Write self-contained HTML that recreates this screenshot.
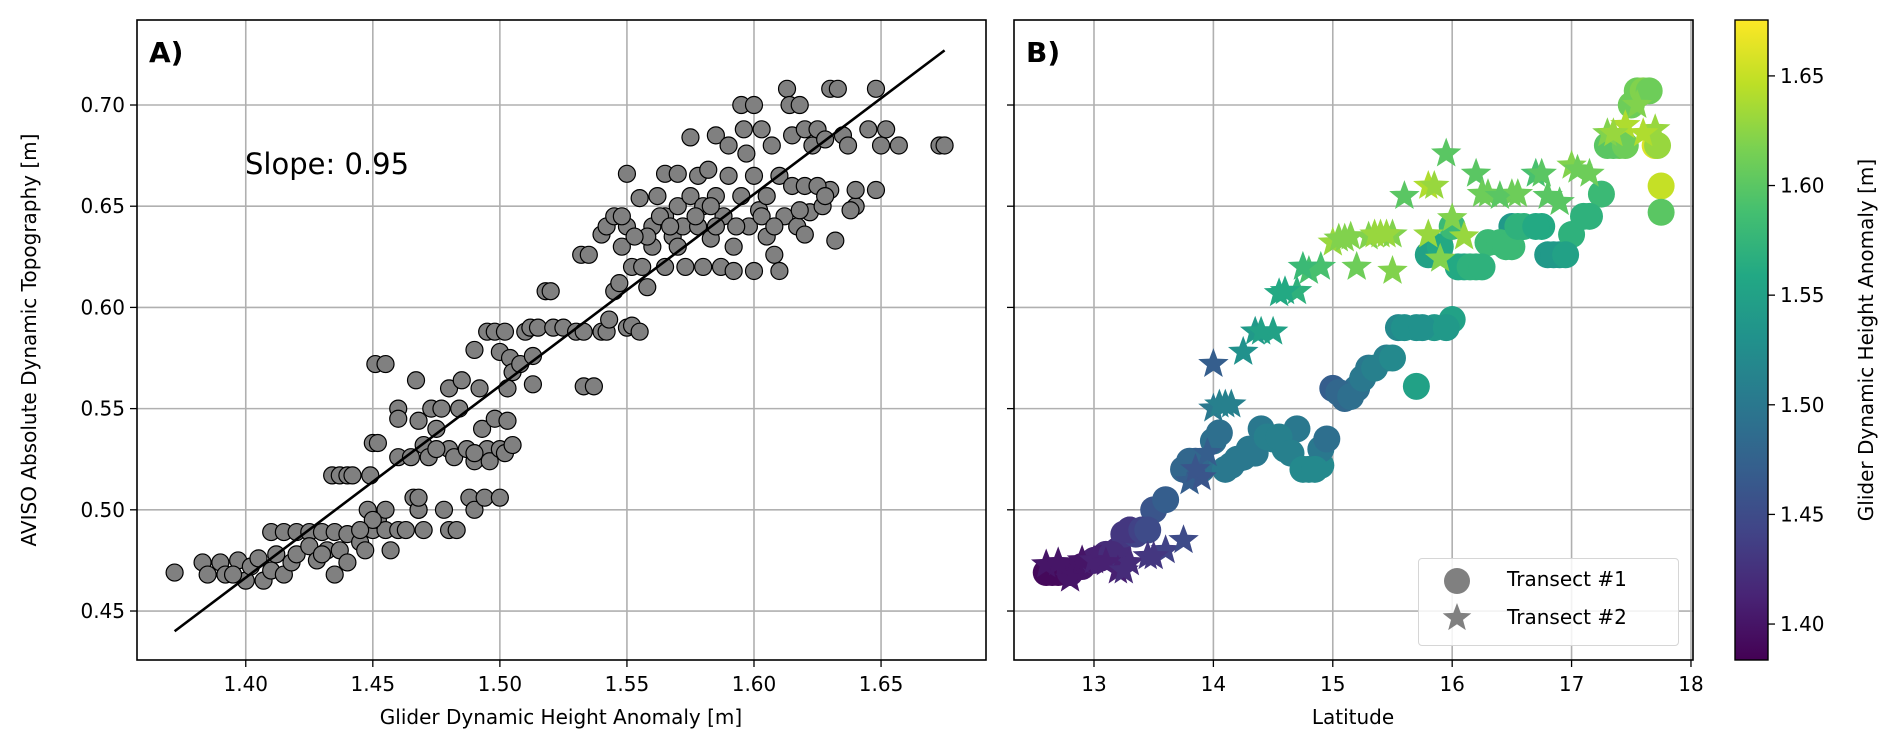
<!DOCTYPE html>
<html><head><meta charset="utf-8">
<style>
html,body{margin:0;padding:0;background:#fff;}
svg{display:block;font-family:"DejaVu Sans","Liberation Sans",sans-serif;}
</style></head>
<body>
<svg id="fig" width="1892" height="753" viewBox="0 0 1892 753" xmlns="http://www.w3.org/2000/svg"></svg>
<script>
// ---- Panel A data ----
const aX = [1.372,1.383,1.385,1.39,1.392,1.397,1.40,1.402,1.405,1.407,1.41,1.412,1.415,1.418,1.41,1.415,1.42,1.425,1.43,1.435,1.42,1.425,1.428,1.432,1.435,1.437,1.44,1.44,1.445,1.447,1.45,1.452,1.455,1.457,1.46,1.463,1.47,1.48,1.483,1.448,1.455,1.45,1.468,1.478,
1.434,1.437,1.44,1.442,1.449,1.45,1.452,1.451,1.455,1.46,1.46,1.46,1.465,1.466,1.468,1.468,1.467,1.468,1.47,1.472,1.473,1.475,1.477,1.48,1.48,1.482,1.484,1.485,1.487,1.488,1.49,1.49,1.492,1.493,1.494,1.495,1.496,1.498,1.5,1.5,1.502,1.503,1.505,1.49,1.495,1.498,1.5,1.502,1.504,1.505,1.508,1.51,1.512,1.513,1.513,1.515,1.518,1.52,1.521,1.525,1.53,1.533,1.532,1.535,1.533,1.537,1.54,1.542,1.54,1.542,1.545,1.543,1.545,1.547,1.55,1.552,1.555,1.55,1.548,1.55,1.552,1.555,1.556,1.558,1.56,1.56,1.562,1.565,1.565,1.565,1.568,1.57,1.57,1.572,1.573,1.575,1.575,1.578,1.578,1.58,1.58,1.582,1.583,1.585,1.585,1.587,1.588,1.59,1.59,1.592,1.592,1.595,1.595,1.596,1.597,1.598,1.6,1.6,1.6,1.602,1.603,1.605,1.605,1.607,1.608,1.61,1.61,1.612,1.613,1.614,1.615,1.615,1.617,1.618,1.62,1.62,1.622,1.623,1.625,1.627,1.628,1.63,1.63,1.632,1.633,1.635,1.637,1.64,1.64,1.645,1.648,1.648,1.65,1.652,1.657,1.673,1.675,1.62,1.625,1.585,1.57,1.558,
1.395,1.43,1.445,1.475,1.49,1.503,1.548,1.553,1.563,1.567,1.577,1.583,1.593,1.603,1.608,1.618,1.628,1.638];
const aY = [0.469,0.474,0.468,0.474,0.468,0.475,0.465,0.472,0.476,0.465,0.47,0.478,0.468,0.474,0.489,0.489,0.489,0.489,0.489,0.489,0.478,0.482,0.475,0.48,0.468,0.48,0.474,0.488,0.484,0.48,0.49,0.495,0.49,0.48,0.49,0.49,0.49,0.49,0.49,0.5,0.5,0.495,0.5,0.5,
0.517,0.517,0.517,0.517,0.517,0.533,0.533,0.572,0.572,0.55,0.545,0.526,0.526,0.506,0.5,0.506,0.564,0.544,0.532,0.526,0.55,0.54,0.55,0.56,0.53,0.526,0.55,0.564,0.53,0.506,0.524,0.5,0.56,0.54,0.506,0.53,0.524,0.545,0.506,0.53,0.528,0.544,0.532,0.579,0.588,0.588,0.578,0.588,0.575,0.568,0.572,0.588,0.59,0.562,0.576,0.59,0.608,0.608,0.59,0.59,0.588,0.588,0.626,0.626,0.561,0.561,0.588,0.588,0.636,0.64,0.645,0.594,0.608,0.612,0.59,0.591,0.588,0.666,0.63,0.64,0.62,0.654,0.62,0.61,0.64,0.63,0.655,0.666,0.645,0.62,0.635,0.65,0.666,0.64,0.62,0.655,0.684,0.665,0.64,0.65,0.62,0.668,0.634,0.685,0.655,0.62,0.645,0.665,0.68,0.63,0.618,0.655,0.7,0.688,0.676,0.64,0.665,0.7,0.618,0.648,0.688,0.655,0.635,0.68,0.626,0.665,0.618,0.645,0.708,0.7,0.685,0.66,0.64,0.7,0.688,0.66,0.647,0.68,0.688,0.65,0.683,0.708,0.658,0.633,0.708,0.685,0.68,0.65,0.658,0.688,0.708,0.658,0.68,0.688,0.68,0.68,0.68,0.636,0.66,0.64,0.63,0.635,
0.468,0.478,0.49,0.53,0.528,0.56,0.645,0.635,0.645,0.64,0.645,0.65,0.64,0.645,0.64,0.648,0.655,0.648];
const fitX = [1.372,1.675];
const fitY = [0.440,0.727];
const aXTicks = [1.40,1.45,1.50,1.55,1.60,1.65];
const yTicks = [0.45,0.50,0.55,0.60,0.65,0.70];
// ---- Panel B data ----
const c1Lat = [12.6,12.7,12.9,13.0,13.1,13.2,13.25,13.3,13.35,13.5,13.6,13.75,13.8,13.9,14.0,14.05,14.1,14.2,14.3,14.4,14.5,14.6,14.7,14.8,14.9,14.9,14.95,15.0,15.1,15.2,15.3,15.45,15.55,15.7,15.7,15.85,16.0,15.8,15.9,16.05,16.2,16.3,16.5,16.6,16.75,16.8,16.9,17.0,17.1,17.25,17.3,17.4,17.5,17.55,17.6,17.7,17.75,17.75,16.0,16.5,
12.65,12.8,13.05,13.15,13.3,13.4,13.45,13.85,14.15,14.25,14.35,14.45,14.55,14.65,14.75,14.85,15.05,15.15,15.25,15.35,15.5,15.6,15.75,15.95,16.1,16.15,16.25,16.4,16.45,16.55,16.7,16.85,16.95,17.15,17.35,17.45,17.65,17.72];
const c1Y = [0.469,0.469,0.472,0.475,0.478,0.48,0.488,0.49,0.488,0.5,0.505,0.52,0.524,0.52,0.534,0.538,0.52,0.525,0.53,0.54,0.535,0.53,0.54,0.52,0.522,0.53,0.535,0.56,0.555,0.56,0.57,0.575,0.59,0.59,0.561,0.59,0.594,0.626,0.63,0.62,0.62,0.632,0.63,0.64,0.64,0.626,0.626,0.636,0.645,0.656,0.68,0.68,0.70,0.707,0.707,0.68,0.66,0.647,0.64,0.64,
0.469,0.469,0.476,0.478,0.49,0.49,0.49,0.524,0.522,0.526,0.528,0.536,0.536,0.528,0.52,0.52,0.558,0.556,0.565,0.57,0.575,0.59,0.59,0.59,0.62,0.62,0.62,0.632,0.63,0.64,0.64,0.626,0.626,0.645,0.68,0.68,0.707,0.68];
const c1C = [1.39,1.39,1.40,1.41,1.42,1.42,1.43,1.43,1.44,1.46,1.47,1.48,1.48,1.49,1.49,1.49,1.50,1.50,1.50,1.50,1.51,1.51,1.50,1.52,1.52,1.50,1.49,1.47,1.48,1.49,1.50,1.51,1.52,1.53,1.55,1.54,1.55,1.55,1.56,1.56,1.57,1.58,1.58,1.57,1.56,1.54,1.54,1.57,1.57,1.58,1.60,1.61,1.61,1.61,1.62,1.66,1.65,1.60,1.58,1.54,
1.39,1.40,1.41,1.42,1.43,1.44,1.45,1.48,1.50,1.50,1.50,1.51,1.51,1.51,1.52,1.52,1.48,1.49,1.50,1.51,1.52,1.53,1.53,1.54,1.56,1.57,1.57,1.58,1.58,1.57,1.56,1.54,1.55,1.57,1.60,1.61,1.61,1.63];
const c2Lat = [12.6,12.8,12.9,13.2,13.3,13.45,13.6,13.75,13.8,13.9,13.95,14.0,14.1,14.0,14.25,14.35,14.5,14.55,14.7,14.8,14.9,15.0,15.1,15.2,15.3,15.5,15.4,15.5,15.6,15.8,15.8,15.9,15.95,16.0,16.1,16.2,16.3,16.5,16.7,16.8,16.9,17.0,17.15,17.3,17.45,17.55,17.7,
12.7,13.0,13.1,13.25,13.5,13.85,14.05,14.15,14.4,14.6,14.75,15.05,15.15,15.35,15.45,15.85,16.25,16.4,16.55,16.75,17.05,17.35,17.6];
const c2Y = [0.473,0.466,0.475,0.47,0.474,0.477,0.48,0.485,0.514,0.516,0.528,0.55,0.552,0.572,0.578,0.588,0.588,0.607,0.608,0.618,0.62,0.632,0.634,0.62,0.635,0.618,0.636,0.636,0.655,0.66,0.636,0.624,0.676,0.644,0.635,0.666,0.656,0.656,0.666,0.655,0.652,0.67,0.666,0.686,0.69,0.70,0.688,
0.474,0.475,0.474,0.47,0.477,0.52,0.552,0.552,0.588,0.608,0.62,0.634,0.635,0.636,0.636,0.66,0.656,0.655,0.656,0.666,0.668,0.686,0.686];
const c2C = [1.40,1.40,1.40,1.41,1.42,1.43,1.44,1.45,1.47,1.46,1.47,1.50,1.51,1.47,1.53,1.54,1.55,1.56,1.57,1.59,1.59,1.63,1.62,1.61,1.62,1.62,1.63,1.62,1.60,1.64,1.63,1.62,1.60,1.62,1.63,1.60,1.61,1.61,1.59,1.60,1.60,1.62,1.61,1.62,1.64,1.62,1.63,
1.40,1.41,1.41,1.42,1.43,1.46,1.51,1.51,1.55,1.56,1.58,1.62,1.62,1.63,1.63,1.63,1.61,1.60,1.61,1.60,1.61,1.63,1.64];
const bXTicks = [13,14,15,16,17,18];
const cbTicks = [1.40,1.45,1.50,1.55,1.60,1.65];

const NS="http://www.w3.org/2000/svg";
const svg=document.getElementById('fig');
function el(tag,attrs,parent){const e=document.createElementNS(NS,tag);for(const k in attrs)e.setAttribute(k,attrs[k]);(parent||svg).appendChild(e);return e;}

const A={l:137,r:986,t:20,b:660}, B={l:1014,r:1693,t:20,b:660};
const yMin=0.4258,yMax=0.7420;
const axMin=1.3572,axMax=1.6913;
const bxMin=12.33,bxMax=18.017;
const cMin=1.3836,cMax=1.6755;
const yS=v=>A.b-(v-yMin)/(yMax-yMin)*(A.b-A.t);
const axS=v=>A.l+(v-axMin)/(axMax-axMin)*(A.r-A.l);
const bxS=v=>B.l+(v-bxMin)/(bxMax-bxMin)*(B.r-B.l);

const vir=[[68,1,84],[72,36,117],[65,68,135],[53,95,141],[42,120,142],[33,145,140],[34,168,132],[68,191,112],[122,209,81],[189,223,38],[253,231,37]];
function viridis(t){t=Math.max(0,Math.min(1,t));const f=t*10,i=Math.min(9,Math.floor(f)),u=f-i;const a=vir[i],b=vir[i+1];return `rgb(${a.map((c,k)=>Math.round(c+(b[k]-c)*u)).join(',')})`;}
const cmap=v=>viridis((v-cMin)/(cMax-cMin));

const gA=el('g',{});
aXTicks.forEach(v=>el('line',{x1:axS(v),x2:axS(v),y1:A.t,y2:A.b,stroke:'#b0b0b0','stroke-width':1.6},gA));
yTicks.forEach(v=>el('line',{x1:A.l,x2:A.r,y1:yS(v),y2:yS(v),stroke:'#b0b0b0','stroke-width':1.6},gA));
const gB=el('g',{});
bXTicks.forEach(v=>el('line',{x1:bxS(v),x2:bxS(v),y1:B.t,y2:B.b,stroke:'#b0b0b0','stroke-width':1.6},gB));
yTicks.forEach(v=>el('line',{x1:B.l,x2:B.r,y1:yS(v),y2:yS(v),stroke:'#b0b0b0','stroke-width':1.6},gB));

const ptsA=el('g',{});
aX.forEach((x,i)=>{const c=el('circle',{cx:axS(x),cy:yS(aY[i]),r:8.5,fill:'#808080',stroke:'#000','stroke-width':1.2},ptsA);

});
const fl=el('line',{x1:axS(fitX[0]),y1:yS(fitY[0]),x2:axS(fitX[1]),y2:yS(fitY[1]),stroke:'#000','stroke-width':2.6});



function starPath(cx,cy,R){const r=R*0.42;let d='';for(let k=0;k<10;k++){const ang=-Math.PI/2+k*Math.PI/5;const rr=k%2?r:R;d+=(k?'L':'M')+(cx+rr*Math.cos(ang)).toFixed(1)+','+(cy+rr*Math.sin(ang)).toFixed(1);}return d+'Z';}
const ptsB=el('g',{});
c1Lat.forEach((x,i)=>{const c=el('circle',{cx:bxS(x),cy:yS(c1Y[i]),r:13.5,fill:cmap(c1C[i])},ptsB);

});
c2Lat.forEach((x,i)=>{const s=el('path',{d:starPath(bxS(x),yS(c2Y[i]),16),fill:cmap(c2C[i])},ptsB);

});

function frame(P,name){const r=el('rect',{x:P.l,y:P.t,width:P.r-P.l,height:P.b-P.t,fill:'none',stroke:'#000','stroke-width':1.6});}
frame(A,'panel-a-frame');frame(B,'panel-b-frame');
const tf='font-size:20px;fill:#000';
aXTicks.forEach(v=>{el('line',{x1:axS(v),x2:axS(v),y1:A.b,y2:A.b+7,stroke:'#000','stroke-width':1.3});const t=el('text',{x:axS(v),y:A.b+31,'text-anchor':'middle',style:tf});t.textContent=v.toFixed(2);});
yTicks.forEach(v=>{el('line',{x1:A.l-7,x2:A.l,y1:yS(v),y2:yS(v),stroke:'#000','stroke-width':1.3});el('line',{x1:B.l-7,x2:B.l,y1:yS(v),y2:yS(v),stroke:'#000','stroke-width':1.3});const t=el('text',{x:A.l-12,y:yS(v)+7,'text-anchor':'end',style:tf});t.textContent=v.toFixed(2);});
bXTicks.forEach(v=>{el('line',{x1:bxS(v),x2:bxS(v),y1:B.b,y2:B.b+7,stroke:'#000','stroke-width':1.3});const t=el('text',{x:bxS(v),y:B.b+31,'text-anchor':'middle',style:tf});t.textContent=String(v);});

const CB={l:1735,r:1768,t:20,b:660};
const defs=el('defs',{});const lg=el('linearGradient',{id:'vg',x1:0,y1:1,x2:0,y2:0},defs);
for(let k=0;k<=10;k++)el('stop',{offset:k/10,'stop-color':viridis(k/10)},lg);
const cb=el('rect',{x:CB.l,y:CB.t,width:CB.r-CB.l,height:CB.b-CB.t,fill:'url(#vg)',stroke:'#000','stroke-width':1.4});

const cbS=v=>CB.b-(v-cMin)/(cMax-cMin)*(CB.b-CB.t);
cbTicks.forEach(v=>{el('line',{x1:CB.r,x2:CB.r+7,y1:cbS(v),y2:cbS(v),stroke:'#000','stroke-width':1.3});const t=el('text',{x:CB.r+12,y:cbS(v)+7,style:tf});t.textContent=v.toFixed(2);});
</script>
<div style="position:absolute;left:0;top:0;width:1892px;height:753px;pointer-events:none;font-family:'DejaVu Sans','Liberation Sans',sans-serif;">
  <div style="position:absolute;left:149px;top:36px;font-size:28px;font-weight:bold;">A)</div>
  <div style="position:absolute;left:1026px;top:36px;font-size:28px;font-weight:bold;">B)</div>
  <div style="position:absolute;left:245px;top:147px;font-size:29px;">Slope: 0.95</div>
  <div style="position:absolute;left:261px;width:600px;text-align:center;top:705px;font-size:20px;">Glider Dynamic Height Anomaly [m]</div>
  <div style="position:absolute;left:1153px;width:400px;text-align:center;top:705px;font-size:20px;">Latitude</div>
  <div style="position:absolute;left:29px;top:340px;width:600px;margin-left:-300px;text-align:center;font-size:20px;transform:translateY(-50%) rotate(-90deg);line-height:22px;">AVISO Absolute Dynamic Topography [m]</div>
  <div style="position:absolute;left:1866px;top:340px;width:600px;margin-left:-300px;text-align:center;font-size:20px;transform:translateY(-50%) rotate(-90deg);line-height:22px;">Glider Dynamic Height Anomaly [m]</div>
  <div style="position:absolute;left:1418px;top:558px;width:259px;height:86px;border:1.5px solid #d6d6d6;border-radius:4px;background:rgba(255,255,255,0.85);">
    <div style="position:absolute;left:25px;top:8px;height:28px;width:230px;">
      <span style="position:absolute;left:0;top:1px;width:26px;height:26px;border-radius:50%;background:#808080;"></span>
      <span style="position:absolute;left:63px;top:0px;font-size:20px;">Transect #1</span>
    </div>
    <div style="position:absolute;left:25px;top:46px;height:28px;width:230px;">
      <svg width="30" height="30" style="position:absolute;left:-2px;top:-2px" viewBox="-15 -15 30 30"><path d="M0,-15L3.7,-5.1L14.3,-4.6L6,1.9L8.8,12.1L0,6.2L-8.8,12.1L-6,1.9L-14.3,-4.6L-3.7,-5.1Z" fill="#808080"/></svg>
      <span style="position:absolute;left:63px;top:0px;font-size:20px;">Transect #2</span>
    </div>
  </div>
</div>
</body></html>
